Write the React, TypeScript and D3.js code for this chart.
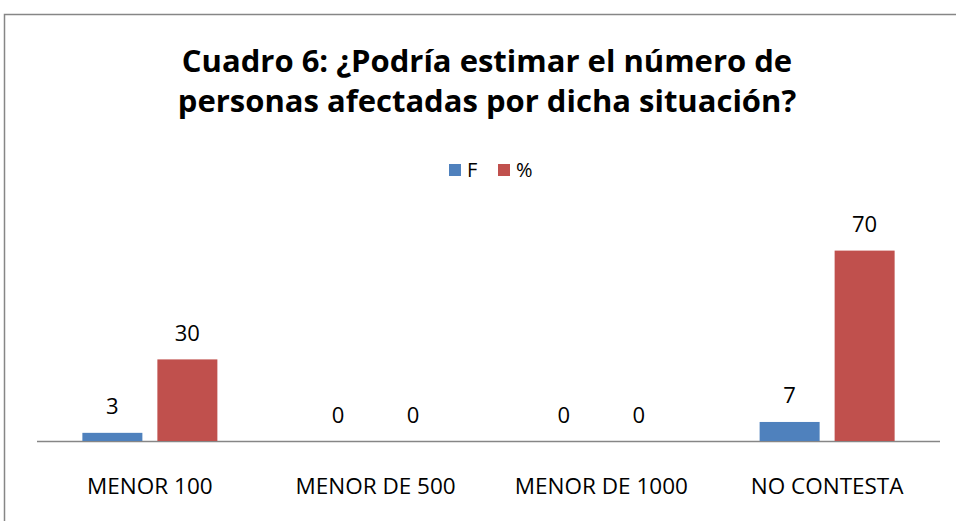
import React from "react";
import * as d3 from "d3";

const categories = ["MENOR 100", "MENOR DE 500", "MENOR DE 1000", "NO CONTESTA"];
const seriesNames = ["F", "%"];
const fValues = [3, 0, 0, 7];
const pctValues = [30, 0, 0, 70];
const colors = ["#4F81BD", "#C0504D"];
const titleLines = ["Cuadro 6: ¿Podría estimar el número de", "personas afectadas por dicha situación?"];

export default function App() {
  const W = 956, H = 521;
  const left = 37, right = 940, baseY = 441;
  const x0 = d3.scaleBand().domain(categories).range([left, right]).paddingInner(0).paddingOuter(0);
  const y = d3.scaleLinear().domain([0, 80]).range([baseY, baseY - 80 * 2.72]);
  const series = [fValues, pctValues];
  const barW = 60, gap = 15;
  const font = "'Open Sans', 'Noto Sans', sans-serif";
  return (
    <svg width={W} height={H} style={{ position: "absolute", left: 0, top: 0 }}>
      <rect x={0} y={0} width={W} height={H} fill="#fff" />
      <rect x={4.5} y={14.5} width={W + 10} height={H + 10} fill="#fff" stroke="#868686" strokeWidth={1.5} />
      {titleLines.map((t, i) => (
        <text key={i} x={487} y={72 + i * 40} textAnchor="middle" fontFamily={font} fontWeight="bold" fontSize={31} fill="#000">{t}</text>
      ))}
      {seriesNames.map((s, i) => {
        const lx = i === 0 ? 449 : 498;
        return (
          <g key={s}>
            <rect x={lx} y={164} width={12} height={12} fill={colors[i]} />
            <text x={lx + 18} y={177} fontFamily={font} fontSize={20} fill="#000">{s}</text>
          </g>
        );
      })}
      <line x1={left} x2={right} y1={baseY + 0.5} y2={baseY + 0.5} stroke="#868686" strokeWidth={1.5} />
      {categories.map((c, ci) => {
        const cx = (x0(c) as number) + x0.bandwidth() / 2;
        return (
          <g key={c}>
            {series.map((vals, si) => {
              const bx = si === 0 ? cx - gap / 2 - barW : cx + gap / 2;
              const v = vals[ci];
              const top = y(v);
              return (
                <g key={si}>
                  {v > 0 && <rect x={bx} y={top} width={barW} height={baseY - top} fill={colors[si]} />}
                  <text x={bx + barW / 2} y={top - 18.5} textAnchor="middle" fontFamily={font} fontSize={22} fill="#000">{v}</text>
                </g>
              );
            })}
            <text x={cx} y={494} textAnchor="middle" fontFamily={font} fontSize={22.5} fill="#000">{c}</text>
          </g>
        );
      })}
    </svg>
  );
}
